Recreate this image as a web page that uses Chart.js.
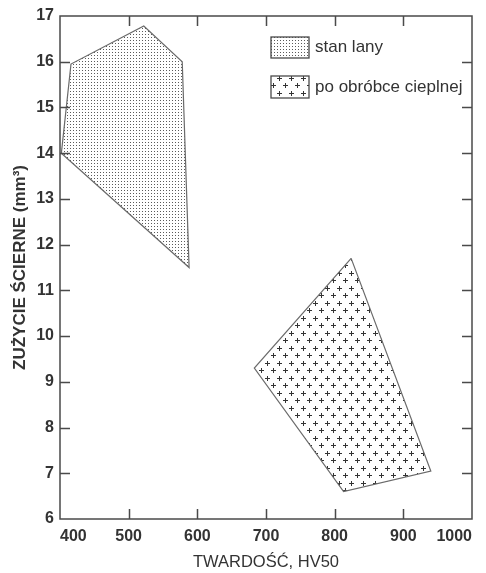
<!DOCTYPE html>
<html>
<head>
<meta charset="utf-8">
<script src="https://cdn.jsdelivr.net/npm/chart.js@4"></script>
<style>
  html, body { margin: 0; padding: 0; background: #fff; }
  #wrap { width: 486px; height: 573px; }
</style>
</head>
<body>
<div id="wrap"><canvas id="wearChart" width="486" height="573"></canvas></div>
<script>
// Data
const seriesNames = ['stan lany', 'po obróbce cieplnej'];
const castHardness = [402, 416, 522, 578, 588, 402];
const castWear = [14.0, 15.95, 16.78, 16.0, 11.5, 14.0];
const heatHardness = [824, 683, 813, 940, 824];
const heatWear = [11.7, 9.3, 6.6, 7.05, 11.7];
const xTicks = [400, 500, 600, 700, 800, 900, 1000];
const yTicks = [6, 7, 8, 9, 10, 11, 12, 13, 14, 15, 16, 17];

const AXIS_COLOR = '#4a4a4a';
const TEXT_COLOR = '#333333';
const FONT = '"Liberation Sans", Arial, sans-serif';

// Fill patterns
function dotPattern() {
    const c = document.createElement('canvas');
    c.width = 3; c.height = 3;
    const g = c.getContext('2d');
    g.fillStyle = '#ffffff';
    g.fillRect(0, 0, 3, 3);
    g.fillStyle = '#5a5a5a';
    g.fillRect(1, 1, 1, 1);
    return g.createPattern(c, 'repeat');
}

function plusPattern() {
    const c = document.createElement('canvas');
    c.width = 12; c.height = 15;
    const g = c.getContext('2d');
    g.fillStyle = '#ffffff';
    g.fillRect(0, 0, 12, 15);
    g.fillStyle = '#333333';
    [[3, 3], [9, 10]].forEach(([px, py]) => {
        g.fillRect(px - 2, py, 5, 1);
        g.fillRect(px, py - 2, 1, 5);
    });
    return g.createPattern(c, 'repeat');
}

const toPoints = (xs, ys) => xs.map((x, i) => ({ x: x, y: ys[i] }));

// Frame with inward ticks on all four sides
const framePlugin = {
    id: 'frame',
    afterDatasetsDraw(chart) {
        const { ctx, chartArea: a, scales } = chart;
        ctx.save();
        ctx.strokeStyle = AXIS_COLOR;
        ctx.lineWidth = 1.5;
        ctx.strokeRect(a.left, a.top, a.right - a.left, a.bottom - a.top);
        const len = 10;
        ctx.beginPath();
        xTicks.slice(1, -1).forEach(v => {
            const px = Math.round(scales.x.getPixelForValue(v)) + 0.5;
            ctx.moveTo(px, a.bottom); ctx.lineTo(px, a.bottom - len);
            ctx.moveTo(px, a.top); ctx.lineTo(px, a.top + len);
        });
        yTicks.slice(1, -1).forEach(v => {
            const py = Math.round(scales.y.getPixelForValue(v)) + 0.5;
            ctx.moveTo(a.left, py); ctx.lineTo(a.left + len, py);
            ctx.moveTo(a.right, py); ctx.lineTo(a.right - len, py);
        });
        ctx.stroke();
        ctx.restore();
    }
};

// Legend drawn inside the plot area
const boxLegendPlugin = {
    id: 'boxLegend',
    afterDraw(chart) {
        const ctx = chart.ctx;
        const boxes = [
            { x: 271, y: 37, w: 38, h: 21 },
            { x: 271, y: 76, w: 38, h: 22 }
        ];
        ctx.save();
        chart.data.datasets.forEach((ds, i) => {
            const b = boxes[i];
            ctx.fillStyle = ds.backgroundColor;
            ctx.fillRect(b.x, b.y, b.w, b.h);
            ctx.strokeStyle = AXIS_COLOR;
            ctx.lineWidth = 1.3;
            ctx.strokeRect(b.x, b.y, b.w, b.h);
            ctx.fillStyle = TEXT_COLOR;
            ctx.font = '17px ' + FONT;
            ctx.textBaseline = 'middle';
            ctx.fillText(ds.label, b.x + 44, b.y + b.h / 2);
        });
        ctx.restore();
    }
};

const ctx = document.getElementById('wearChart').getContext('2d');
const chart = new Chart(ctx, {
    type: 'scatter',
    data: {
        datasets: [{
            label: seriesNames[0],
            data: toPoints(castHardness, castWear),
            showLine: true,
            fill: 'shape',
            tension: 0,
            borderColor: '#6a6a6a',
            borderWidth: 1.2,
            backgroundColor: dotPattern(),
            pointRadius: 0
        }, {
            label: seriesNames[1],
            data: toPoints(heatHardness, heatWear),
            showLine: true,
            fill: 'shape',
            tension: 0,
            borderColor: '#6a6a6a',
            borderWidth: 1.2,
            backgroundColor: plusPattern(),
            pointRadius: 0
        }]
    },
    options: {
        responsive: false,
        animation: false,
        layout: {
            padding: { top: 16, right: 14, left: 0, bottom: 0 }
        },
        scales: {
            x: {
                type: 'linear',
                min: 400,
                max: 1000,
                afterBuildTicks: s => { s.ticks = xTicks.map(v => ({ value: v })); },
                afterFit: s => { s.height = 54; },
                grid: { display: false, drawTicks: false },
                border: { display: false },
                ticks: {
                    align: 'inner',
                    padding: 8,
                    color: TEXT_COLOR,
                    callback: v => String(v),
                    font: { family: FONT, size: 16, weight: 'bold' }
                },
                title: {
                    display: true,
                    text: 'TWARDOŚĆ, HV50',
                    color: TEXT_COLOR,
                    padding: { top: 0, bottom: 1 },
                    font: { family: FONT, size: 16.5 }
                }
            },
            y: {
                type: 'linear',
                min: 6,
                max: 17,
                afterBuildTicks: s => { s.ticks = yTicks.map(v => ({ value: v })); },
                afterFit: s => { s.width = 60; },
                grid: { display: false, drawTicks: false },
                border: { display: false },
                ticks: {
                    padding: 6,
                    color: TEXT_COLOR,
                    callback: v => String(v),
                    font: { family: FONT, size: 16, weight: 'bold' }
                },
                title: {
                    display: true,
                    text: 'ZUŻYCIE ŚCIERNE (mm³)',
                    color: TEXT_COLOR,
                    padding: { top: 10, bottom: 0 },
                    font: { family: FONT, size: 17, weight: 'bold' }
                }
            }
        },
        plugins: {
            legend: { display: false },
            tooltip: { enabled: false }
        }
    },
    plugins: [framePlugin, boxLegendPlugin]
});
</script>
</body>
</html>
